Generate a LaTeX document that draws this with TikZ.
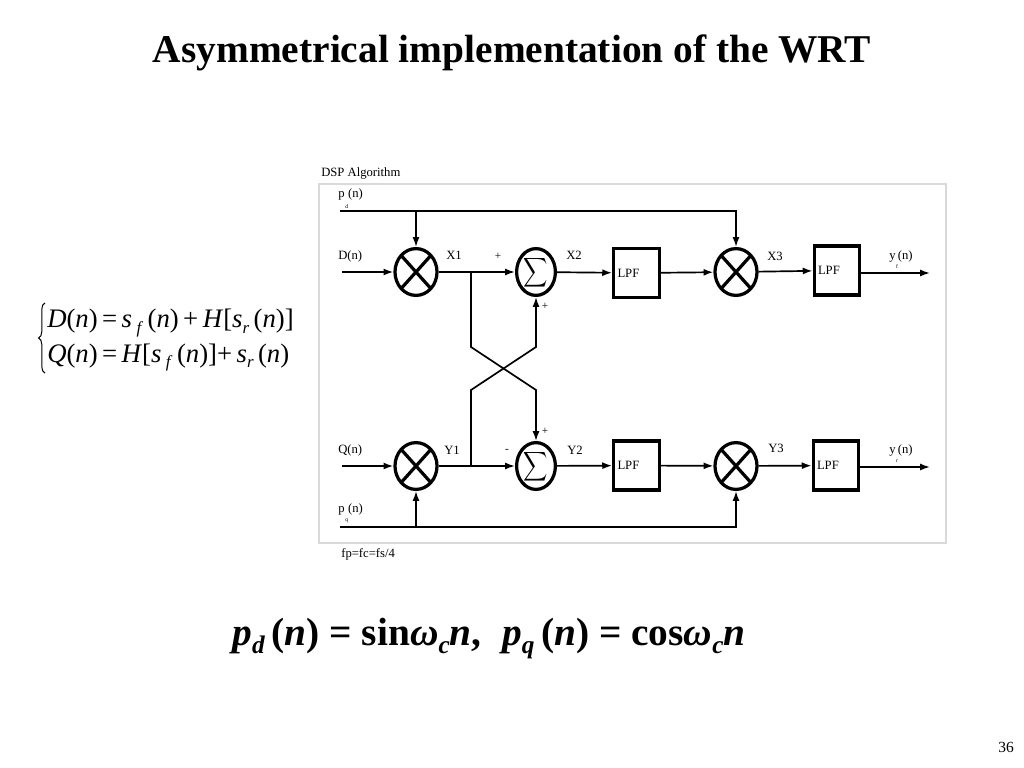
\documentclass[tikz,border=0pt]{standalone}
\usepackage{fontspec}
\usepackage{graphicx}
\setmainfont{Liberation Serif}
\usetikzlibrary{shapes.geometric,arrows.meta,positioning,decorations.pathreplacing}
\newcommand\lowsub[2][8pt]{\raisebox{-#1}[0pt][0pt]{\fontsize{4}{4}\selectfont #2}}
\newcommand\eqsub[2][12]{\raisebox{-0.45ex}{\fontsize{#1}{#1}\selectfont\textit{#2}}}
\newcommand\sumsign{\raisebox{-4.2pt}[0pt][0pt]{\makebox[0pt]{\scalebox{1.2}[1.45]{$\displaystyle\sum$}}}}
\tikzset{
  mult/.style={ellipse, draw, line width=2.3pt, minimum width=1.05cm,
    minimum height=1.17cm, inner sep=0pt,
    path picture={\draw[line width=2.3pt]
      (path picture bounding box.north west) -- (path picture bounding box.south east)
      (path picture bounding box.north east) -- (path picture bounding box.south west);}},
  summer/.style={ellipse, draw, line width=2.3pt, minimum width=0.97cm,
    minimum height=1.17cm, inner sep=0pt},
  lpf/.style={draw, line width=2.3pt, minimum width=1.14cm, minimum height=1.22cm,
    text width=0.95cm, align=left, inner sep=0pt, font=\fontsize{9}{11}\selectfont},
  lbl/.style={anchor=base west, inner sep=0pt, font=\fontsize{9}{11}\selectfont},
  sgn/.style={inner sep=0pt, font=\fontsize{8}{10}\selectfont},
  wire/.style={line width=1.2pt},
  sig/.style={wire, -{Latex[length=7pt,width=5pt]}}
}
\begin{document}
\begin{tikzpicture}[x=0.025cm, y=-0.025cm]
  \useasboundingbox (0,0) rectangle (1024,768);

  % title and equations
  \node[anchor=base, inner sep=0pt, font=\fontsize{28}{34}\selectfont\bfseries]
    (title) at (512,63) {Asymmetrical implementation of the WRT};
  \node[anchor=west, inner sep=0pt, font=\fontsize{19}{24.8}\selectfont] (sys) at (47,338)
    {\begin{tabular}{@{}l@{}}
      \textit{D}(\textit{n})\,=\,\textit{s}\,\eqsub{f}\,(\textit{n})\,+\,\textit{H}[\textit{s}\eqsub{r}\,(\textit{n})]\\
      \textit{Q}(\textit{n})\,=\,\textit{H}[\textit{s}\,\eqsub{f}\,(\textit{n})]+\,\textit{s}\eqsub{r}\,(\textit{n})
    \end{tabular}};
  \draw[line width=0.7pt, decorate, decoration={brace, amplitude=0.16cm}]
    ([xshift=-0.05cm]sys.south west) -- ([xshift=-0.05cm]sys.north west);
  \node[anchor=base, inner sep=0pt, font=\fontsize{28}{34}\selectfont\bfseries] (carrier) at (489,645)
    {\textit{p}\eqsub[18]{d}\,(\textit{n}) = sin\textit{ω}\eqsub[18]{c}\textit{n},\;
     \textit{p}\eqsub[18]{q}\,(\textit{n}) = cos\textit{ω}\eqsub[18]{c}\textit{n}};
  \node[anchor=base east, inner sep=0pt, font=\fontsize{11}{13}\selectfont] (page) at (1014,752) {36};

  % DSP frame
  \draw[line width=0.8pt, gray!30] (319,184) rectangle (946,543);
  \node[lbl] (dsp) at (321,177) {DSP Algorithm};
  \node[lbl] (fp) at (341,557) {fp=fc=fs/4};

  % blocks
  \node[mult]   (m1) at (416,272) {};
  \node[summer] (s1) at (536,272) {\sumsign};
  \node[lpf]    (f1) at (636.5,273) {LPF};
  \node[mult]   (m3) at (736,272) {};
  \node[lpf]    (f2) at (837,270.5) {LPF};

  \node[mult]   (m2) at (416,466) {};
  \node[summer] (s2) at (536,466) {\sumsign};
  \node[lpf]    (f3) at (636.5,465.5) {LPF};
  \node[mult]   (m4) at (736,466) {};
  \node[lpf]    (f4) at (836,465.5) {LPF};

  % end points
  \coordinate (pd) at (340,211);
  \coordinate (pq) at (340,527);
  \coordinate (din) at (342,272);
  \coordinate (qin) at (342,466);
  \coordinate (yf) at (930,273);
  \coordinate (yr) at (930,467);
  \coordinate (b1) at (471,272);
  \coordinate (b2) at (471,466);
  \coordinate (k1) at (471,347);
  \coordinate (k2) at (536,390);
  \coordinate (k3) at (471,390);
  \coordinate (k4) at (536,347);

  % labels
  \node[lbl] (pdl) at (338,197) {p\hspace{0.5pt}\lowsub{d}(n)};
  \node[lbl] (dl)  at (338,259) {D(n)};
  \node[lbl] (x1l) at (446,259) {X1};
  \node[lbl] (x2l) at (566,259) {X2};
  \node[lbl] (x3l) at (767,260) {X3};
  \node[lbl] (yfl) at (889,259) {y\hspace{0.3pt}\lowsub[6.5pt]{f}(n)};
  \node[sgn] (p1) at (498,256) {+};
  \node[sgn] (p2) at (545,306) {+};

  \node[lbl] (ql)  at (338,453) {Q(n)};
  \node[lbl] (y1l) at (444,454) {Y1};
  \node[lbl] (y2l) at (567,454) {Y2};
  \node[lbl] (y3l) at (768,452) {Y3};
  \node[lbl] (yrl) at (889,453) {y\hspace{0.3pt}\lowsub[6.5pt]{r}(n)};
  \node[lbl] (pql) at (338,512) {p\hspace{0.5pt}\lowsub[7pt]{q}(n)};
  \node[sgn] (mi) at (507,451) {-};
  \node[sgn] (p3) at (545,431) {+};

  % upper branch
  \draw[sig] (pd) -| (m3);
  \draw[sig] (m1 |- pd) -- (m1);
  \draw[sig] (din) -- (m1);
  \draw[sig] (m1) -- (s1);
  \draw[sig] (s1) -- (f1);
  \draw[sig] (f1) -- (m3);
  \draw[sig] (m3) -- (f2);
  \draw[sig] (f2.east |- yf) -- (yf);

  % lower branch
  \draw[sig] (pq) -| (m4);
  \draw[sig] (m2 |- pq) -- (m2);
  \draw[sig] (qin) -- (m2);
  \draw[sig] (m2) -- (s2);
  \draw[sig] (s2) -- (f3);
  \draw[sig] (f3) -- (m4);
  \draw[sig] (m4) -- (f4);
  \draw[sig] (f4.east |- yr) -- (yr);

  % cross coupling
  \draw[sig] (b1) -- (k1) -- (k2) -- (s2);
  \draw[sig] (b2) -- (k3) -- (k4) -- (s1);
\end{tikzpicture}
\end{document}
